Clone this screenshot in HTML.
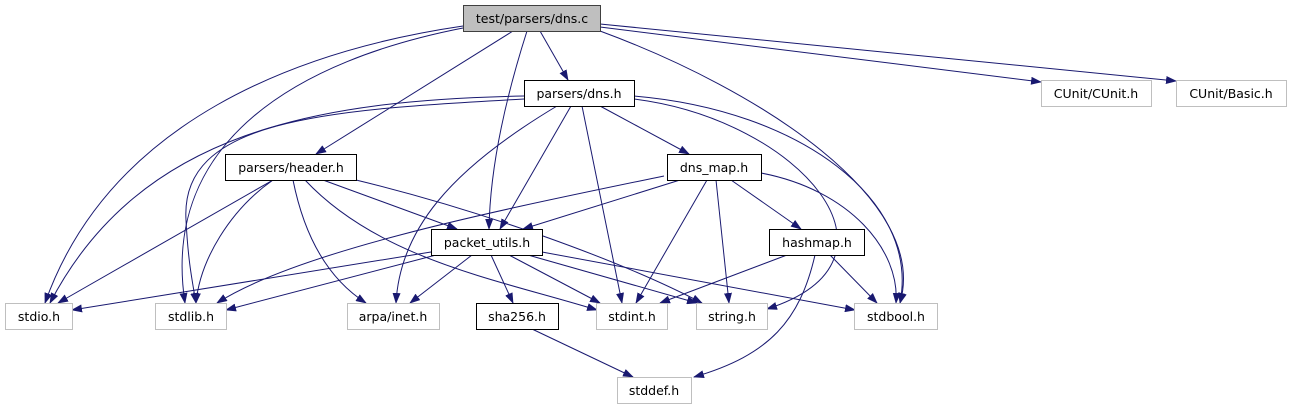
<!DOCTYPE html>
<html><head><meta charset="utf-8"><style>
html,body{margin:0;padding:0;background:#fff;}
svg{display:block;}
text{font-family:"DejaVu Sans","Liberation Sans",sans-serif;font-size:12.5px;fill:#000;}
</style></head><body>
<svg width="1292" height="411" viewBox="0 0 1292 411" xmlns="http://www.w3.org/2000/svg">
<defs>
<marker id="a" markerWidth="11" markerHeight="8" refX="10" refY="4" orient="auto" markerUnits="userSpaceOnUse">
<path d="M0,0 L11,4 L0,8 Z" fill="#191970"/></marker>
</defs>
<g fill="none" stroke="#191970" stroke-width="1" marker-end="url(#a)">
<path d="M463,26 C300,50 110,120 45,303"/>
<path d="M463,28 C300,60 160,140 185,303"/>
<path d="M513,31 L316,154"/>
<path d="M527,31 C505,100 490,170 489,229"/>
<path d="M540,31 L568,80"/>
<path d="M600,31 C760,90 930,200 900,303"/>
<path d="M600,27 L1041,82"/>
<path d="M600,24 L1176,81"/>
<path d="M524,96 C320,100 140,130 50,303"/>
<path d="M524,99 C320,110 180,120 186,220 C188,260 192,280 196,303"/>
<path d="M557,106 C450,170 400,230 396,303"/>
<path d="M571,106 L500,229"/>
<path d="M582,106 L622,303"/>
<path d="M600,106 L689,154"/>
<path d="M634,99 C800,120 920,260 767,309"/>
<path d="M634,96 C800,110 920,200 900,303"/>
<path d="M273,180 L58,303"/>
<path d="M273,180 C230,210 200,260 196,303"/>
<path d="M293,180 C305,240 330,280 366,303"/>
<path d="M323,180 L457,229"/>
<path d="M305,180 C380,260 500,280 597,310"/>
<path d="M356,180 C480,210 620,260 702,303"/>
<path d="M431,252 L72,310"/>
<path d="M436,255 L226,310"/>
<path d="M472,255 L410,303"/>
<path d="M491,255 L513,303"/>
<path d="M509,255 L600,303"/>
<path d="M528,255 L697,303"/>
<path d="M542,252 L855,310"/>
<path d="M680,180 L523,229"/>
<path d="M664,176 C500,210 300,250 217,303"/>
<path d="M707,180 L636,303"/>
<path d="M716,180 L729,303"/>
<path d="M731,180 L801,229"/>
<path d="M761,173 C850,190 900,250 896,303"/>
<path d="M787,255 L660,303"/>
<path d="M830,255 L877,303"/>
<path d="M815,255 C800,320 770,355 694,377"/>
<path d="M532,329 L633,377"/>
</g>
<g stroke-width="1">
<rect x="463.5" y="5.5" width="137" height="26" fill="#bfbfbf" stroke="#404040"/>
<rect x="524.5" y="80.5" width="110" height="26" fill="#fff" stroke="#000"/>
<rect x="225.5" y="154.5" width="131" height="26" fill="#fff" stroke="#000"/>
<rect x="431.5" y="229.5" width="111" height="26" fill="#fff" stroke="#000"/>
<rect x="667.5" y="154.5" width="94" height="26" fill="#fff" stroke="#000"/>
<rect x="769.5" y="229.5" width="95" height="26" fill="#fff" stroke="#000"/>
<rect x="476.5" y="303.5" width="82" height="26" fill="#fff" stroke="#000"/>
<g fill="#fff" stroke="#bfbfbf">
<rect x="1041.5" y="80.5" width="110" height="26"/>
<rect x="1176.5" y="80.5" width="110" height="26"/>
<rect x="5.5" y="303.5" width="67" height="26"/>
<rect x="155.5" y="303.5" width="71" height="26"/>
<rect x="347.5" y="303.5" width="92" height="26"/>
<rect x="596.5" y="303.5" width="71" height="26"/>
<rect x="696.5" y="303.5" width="71" height="26"/>
<rect x="854.5" y="303.5" width="83" height="26"/>
<rect x="617.5" y="377.5" width="74" height="26"/>
</g>
</g>
<g text-anchor="middle">
<text x="532" y="23">test/parsers/dns.c</text>
<text x="579" y="98">parsers/dns.h</text>
<text x="291" y="172">parsers/header.h</text>
<text x="487" y="247">packet_utils.h</text>
<text x="714" y="172">dns_map.h</text>
<text x="817" y="247">hashmap.h</text>
<text x="517" y="321">sha256.h</text>
<text x="1096" y="98">CUnit/CUnit.h</text>
<text x="1231" y="98">CUnit/Basic.h</text>
<text x="39" y="321">stdio.h</text>
<text x="191" y="321">stdlib.h</text>
<text x="393" y="321">arpa/inet.h</text>
<text x="632" y="321">stdint.h</text>
<text x="732" y="321">string.h</text>
<text x="896" y="321">stdbool.h</text>
<text x="654" y="395">stddef.h</text>
</g>
</svg>
</body></html>
